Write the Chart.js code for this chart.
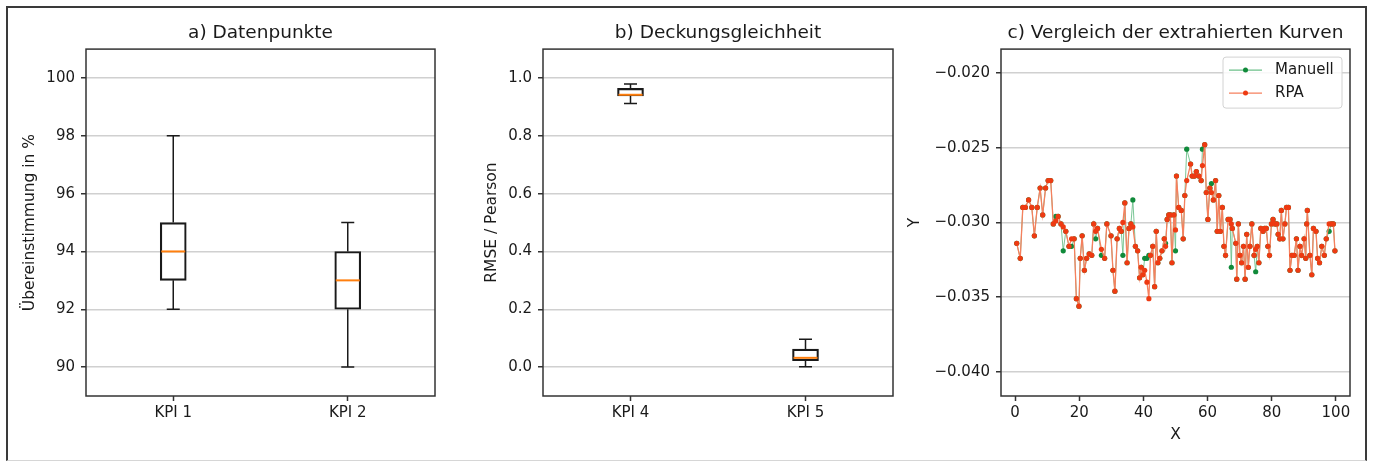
<!DOCTYPE html>
<html>
<head>
<meta charset="utf-8">
<title>KPI Auswertung</title>
<script src="https://cdn.jsdelivr.net/npm/chart.js@4.4.1/dist/chart.umd.min.js"></script>
<style>
  html, body { margin: 0; padding: 0; background: #ffffff; }
  body { width: 1373px; height: 461px; position: relative; overflow: hidden; font-family: "DejaVu Sans", sans-serif; }
  .frame { position: absolute; left: 6px; top: 6px; width: 1361px; height: 455px; box-sizing: border-box;
           border-left: 2px solid #3a3a3a; border-top: 2px solid #3a3a3a; border-right: 2px solid #3a3a3a; border-bottom: 1px solid #d6d6d6; }
  .panel { position: absolute; top: 0; height: 461px; }
</style>
</head>
<body>
<div class="frame"></div>
<div class="panel" style="left:0px;width:460px"><canvas id="chartA"></canvas></div>
<div class="panel" style="left:460px;width:450px"><canvas id="chartB"></canvas></div>
<div class="panel" style="left:906px;width:467px"><canvas id="chartC"></canvas></div>

<script>
// ---- a) Datenpunkte: box statistics per KPI ----
const kpiLabelsA   = ['KPI 1', 'KPI 2'];
const whiskerLowA  = [92, 90];
const quart1A      = [93, 92];
const medianA      = [94, 93];
const quart3A      = [95, 94];
const whiskerHighA = [98, 95];
const yTicksA      = [90, 92, 94, 96, 98, 100];

// ---- b) Deckungsgleichheit: box statistics per KPI ----
const kpiLabelsB   = ['KPI 4', 'KPI 5'];
const whiskerLowB  = [0.912, 0.001];
const quart1B      = [0.938, 0.022];
const medianB      = [0.942, 0.032];
const quart3B      = [0.964, 0.062];
const whiskerHighB = [0.979, 0.096];
const yTicksB      = [0.0, 0.2, 0.4, 0.6, 0.8, 1.0];

// ---- c) Vergleich der extrahierten Kurven ----
const curveX = [
  0.5, 1.6, 2.4, 3.2, 4.2, 5.2, 6.0, 6.9, 7.8, 8.6, 9.5, 10.3, 11.1, 11.9, 12.7, 13.4, 14.3, 15.0, 15.8, 16.8,
  17.6, 18.4, 19.1, 19.9, 20.3, 20.9, 21.6, 22.3, 23.1, 23.9, 24.5, 25.1, 25.7, 26.9, 27.9, 28.6, 29.9, 30.5, 31.1, 31.8,
  32.5, 33.1, 33.6, 34.2, 34.9, 35.5, 36.1, 36.7, 37.5, 38.2, 38.8, 39.3, 39.8, 40.4, 41.1, 41.7, 42.2, 42.9, 43.5, 44.0,
  44.5, 45.1, 45.8, 46.5, 46.9, 47.4, 47.9, 48.4, 48.9, 49.5, 50.0, 50.3, 51.0, 51.8, 52.4, 52.9, 53.5, 54.7, 55.2, 55.9,
  56.5, 57.3, 58.0, 58.4, 59.1, 59.6, 60.1, 60.7, 61.2, 61.8, 62.5, 63.0, 63.5, 64.0, 64.6, 65.1, 65.6, 66.4, 67.0, 67.4,
  67.7, 68.8, 69.1, 69.6, 70.1, 70.6, 71.2, 71.7, 72.2, 72.7, 73.2, 73.8, 74.5, 75.0, 75.5, 76.0, 76.6, 77.3, 77.8, 78.3,
  78.8, 79.3, 79.9, 80.4, 81.0, 81.6, 82.0, 82.5, 83.0, 83.5, 84.1, 84.6, 85.2, 85.7, 86.3, 87.0, 87.7, 88.2, 88.8, 89.3,
  90.1, 90.6, 90.9, 91.1, 91.9, 92.5, 93.0, 93.8, 94.3, 94.9, 95.6, 96.4, 97.0, 97.9, 98.6, 99.2, 99.7
];
const rpaY = [
  -0.0314, -0.0324, -0.0290, -0.0290, -0.0285, -0.0290, -0.0309, -0.0290, -0.0277, -0.0295, -0.0277, -0.0272, -0.0272, -0.0301, -0.0299, -0.0296, -0.0301, -0.0303, -0.0306, -0.0316,
  -0.0311, -0.0311, -0.0351, -0.0356, -0.0324, -0.0309, -0.0332, -0.0324, -0.0321, -0.0322, -0.0301, -0.0306, -0.0304, -0.0318, -0.0324, -0.0301, -0.0309, -0.0332, -0.0346, -0.0311,
  -0.0304, -0.0306, -0.0300, -0.0287, -0.0327, -0.0304, -0.0301, -0.0303, -0.0316, -0.0319, -0.0337, -0.0330, -0.0335, -0.0332, -0.0340, -0.0351, -0.0322, -0.0316, -0.0343, -0.0306,
  -0.0327, -0.0324, -0.0319, -0.0311, -0.0316, -0.0298, -0.0295, -0.0295, -0.0327, -0.0295, -0.0305, -0.0269, -0.0290, -0.0292, -0.0311, -0.0282, -0.0272, -0.0261, -0.0269, -0.0269,
  -0.0266, -0.0269, -0.0272, -0.0262, -0.0248, -0.0280, -0.0298, -0.0277, -0.0280, -0.0285, -0.0272, -0.0306, -0.0282, -0.0306, -0.0290, -0.0316, -0.0322, -0.0298, -0.0298, -0.0301,
  -0.0304, -0.0314, -0.0338, -0.0301, -0.0322, -0.0327, -0.0316, -0.0338, -0.0308, -0.0330, -0.0316, -0.0301, -0.0322, -0.0318, -0.0316, -0.0327, -0.0304, -0.0306, -0.0304, -0.0304,
  -0.0316, -0.0322, -0.0301, -0.0298, -0.0301, -0.0301, -0.0308, -0.0311, -0.0292, -0.0311, -0.0301, -0.0290, -0.0290, -0.0332, -0.0322, -0.0322, -0.0311, -0.0332, -0.0316, -0.0322,
  -0.0311, -0.0324, -0.0301, -0.0292, -0.0322, -0.0335, -0.0304, -0.0306, -0.0324, -0.0327, -0.0316, -0.0322, -0.0311, -0.0301, -0.0301, -0.0301, -0.0319
];
const manuellY = [
  -0.0314, -0.0324, -0.0290, -0.0290, -0.0285, -0.0290, -0.0309, -0.0290, -0.0277, -0.0295, -0.0277, -0.0272, -0.0272, -0.0301, -0.0296, -0.0296, -0.0301, -0.0319, -0.0306, -0.0316,
  -0.0316, -0.0311, -0.0351, -0.0356, -0.0324, -0.0309, -0.0332, -0.0324, -0.0321, -0.0322, -0.0301, -0.0311, -0.0304, -0.0322, -0.0324, -0.0301, -0.0309, -0.0332, -0.0346, -0.0311,
  -0.0304, -0.0306, -0.0322, -0.0287, -0.0327, -0.0304, -0.0301, -0.0285, -0.0316, -0.0319, -0.0337, -0.0330, -0.0335, -0.0324, -0.0324, -0.0322, -0.0322, -0.0316, -0.0343, -0.0306,
  -0.0327, -0.0324, -0.0319, -0.0311, -0.0314, -0.0298, -0.0295, -0.0295, -0.0327, -0.0295, -0.0319, -0.0269, -0.0290, -0.0292, -0.0311, -0.0282, -0.0251, -0.0261, -0.0269, -0.0269,
  -0.0266, -0.0269, -0.0272, -0.0251, -0.0248, -0.0280, -0.0298, -0.0277, -0.0274, -0.0285, -0.0272, -0.0306, -0.0282, -0.0306, -0.0290, -0.0316, -0.0322, -0.0298, -0.0298, -0.0330,
  -0.0304, -0.0314, -0.0338, -0.0301, -0.0322, -0.0327, -0.0316, -0.0338, -0.0308, -0.0330, -0.0316, -0.0301, -0.0322, -0.0333, -0.0316, -0.0327, -0.0304, -0.0306, -0.0304, -0.0304,
  -0.0316, -0.0322, -0.0301, -0.0298, -0.0301, -0.0301, -0.0308, -0.0311, -0.0292, -0.0311, -0.0301, -0.0290, -0.0290, -0.0332, -0.0322, -0.0322, -0.0311, -0.0332, -0.0316, -0.0322,
  -0.0311, -0.0324, -0.0301, -0.0292, -0.0322, -0.0335, -0.0304, -0.0306, -0.0324, -0.0327, -0.0316, -0.0322, -0.0311, -0.0306, -0.0301, -0.0301, -0.0319
];
const xTicksC = [0, 20, 40, 60, 80, 100];
const yTicksC = [-0.040, -0.035, -0.030, -0.025, -0.020];

// ---- shared styling ----
const FONT = 'DejaVu Sans';
const TEXT = '#1a1a1a';
const SPINE = '#333333';
const GRID = '#d0d0d0';

// Closed rectangle around the plot area (all four spines)
const frameSpines = {
  id: 'frameSpines',
  afterDraw(chart) {
    const { ctx, chartArea: a } = chart;
    ctx.save();
    ctx.strokeStyle = SPINE;
    ctx.lineWidth = 1.5;
    ctx.strokeRect(a.left, a.top, a.right - a.left, a.bottom - a.top);
    ctx.restore();
  }
};

// Whiskers, caps and median line on top of the floating-bar boxes
const boxWhiskers = {
  id: 'boxWhiskers',
  afterDatasetsDraw(chart, args, opts) {
    const { ctx } = chart;
    const xs = chart.scales.x, ys = chart.scales.y;
    const half = opts.boxWidth / 2, capHalf = opts.boxWidth / 4;
    ctx.save();
    ctx.lineCap = 'butt';
    opts.low.forEach((lo, i) => {
      const cx = xs.getPixelForValue(i);
      const yLo = ys.getPixelForValue(lo);
      const yQ1 = ys.getPixelForValue(opts.q1[i]);
      const yQ3 = ys.getPixelForValue(opts.q3[i]);
      const yHi = ys.getPixelForValue(opts.high[i]);
      const yMed = ys.getPixelForValue(opts.med[i]);
      ctx.strokeStyle = TEXT;
      ctx.lineWidth = 1.5;
      ctx.beginPath();
      ctx.moveTo(cx, yLo); ctx.lineTo(cx, yQ1);
      ctx.moveTo(cx, yQ3); ctx.lineTo(cx, yHi);
      ctx.moveTo(cx - capHalf, yLo); ctx.lineTo(cx + capHalf, yLo);
      ctx.moveTo(cx - capHalf, yHi); ctx.lineTo(cx + capHalf, yHi);
      ctx.stroke();
      ctx.strokeStyle = '#ff7f0e';
      ctx.lineWidth = 2;
      ctx.beginPath();
      ctx.moveTo(cx - half + 1, yMed); ctx.lineTo(cx + half - 1, yMed);
      ctx.stroke();
    });
    ctx.restore();
  }
};

// Boxed legend with line + marker samples in the upper right corner
const cornerLegend = {
  id: 'cornerLegend',
  afterDraw(chart) {
    const { ctx, chartArea: a } = chart;
    const w = 119, h = 51;
    const left = a.right - 8 - w, top = a.top + 8;
    ctx.save();
    ctx.beginPath();
    ctx.roundRect(left, top, w, h, 3);
    ctx.fillStyle = 'rgba(255,255,255,0.85)';
    ctx.fill();
    ctx.strokeStyle = '#d2d2d2';
    ctx.lineWidth = 1;
    ctx.stroke();
    ctx.font = '15px "' + FONT + '"';
    ctx.textBaseline = 'middle';
    ctx.textAlign = 'left';
    chart.data.datasets.forEach((ds, i) => {
      const y = top + 13 + i * 23;
      ctx.strokeStyle = ds.borderColor;
      ctx.lineWidth = 1.2;
      ctx.beginPath();
      ctx.moveTo(left + 6, y); ctx.lineTo(left + 39, y);
      ctx.stroke();
      ctx.fillStyle = ds.pointBackgroundColor;
      ctx.beginPath();
      ctx.arc(left + 22.5, y, 2.5, 0, Math.PI * 2);
      ctx.fill();
      ctx.fillStyle = TEXT;
      ctx.fillText(ds.label, left + 52, y);
    });
    ctx.restore();
  }
};

function titleOpts(text) {
  return {
    display: true, text, color: TEXT, fullSize: false,
    font: { family: FONT, size: 18.5, weight: 'normal' },
    padding: { top: 9.9, bottom: 5.0 }
  };
}

function fixedTicks(values) {
  return scale => { scale.ticks = values.map(v => ({ value: v })); };
}

function boxChart(canvasId, title, labels, low, q1, med, q3, high, yTicks, yMin, yMax, yTitle, yWidth, titlePad, padRight, fmt) {
  return new Chart(document.getElementById(canvasId), {
    type: 'bar',
    data: {
      labels,
      datasets: [{
        data: q1.map((v, i) => [v, q3[i]]),
        backgroundColor: 'rgba(255,255,255,0)',
        borderColor: TEXT,
        borderWidth: 1.5,
        borderSkipped: false,
        barThickness: 26
      }]
    },
    options: {
      responsive: true,
      maintainAspectRatio: false,
      animation: false,
      events: [],
      layout: { padding: { left: 10, right: padRight, top: 12, bottom: 10 } },
      plugins: {
        legend: { display: false },
        tooltip: { enabled: false },
        title: titleOpts(title),
        boxWhiskers: { low, q1, med, q3, high, boxWidth: 26 }
      },
      scales: {
        x: {
          type: 'category',
          offset: true,
          afterFit: s => { s.height = 55; },
          border: { display: false },
          grid: { offset: false, drawOnChartArea: false, drawTicks: true, tickLength: 5, tickColor: SPINE, tickWidth: 1.5 },
          ticks: { color: TEXT, font: { family: FONT, size: 15 }, padding: 3 }
        },
        y: {
          type: 'linear',
          min: yMin, max: yMax,
          afterBuildTicks: fixedTicks(yTicks),
          afterFit: s => { s.width = yWidth; },
          border: { display: false },
          grid: { color: GRID, lineWidth: 1.5, drawTicks: true, tickLength: 5, tickColor: SPINE, tickWidth: 1.5 },
          ticks: { color: TEXT, font: { family: FONT, size: 15 }, padding: 6, callback: fmt },
          title: { display: true, text: yTitle, color: TEXT, font: { family: FONT, size: 15.5 }, padding: { top: titlePad, bottom: 0 } }
        }
      }
    },
    plugins: [boxWhiskers, frameSpines]
  });
}

boxChart('chartA', 'a) Datenpunkte', kpiLabelsA, whiskerLowA, quart1A, medianA, quart3A, whiskerHighA,
  yTicksA, 89, 101, 'Übereinstimmung in %', 76, 11, 25, v => String(v));

boxChart('chartB', 'b) Deckungsgleichheit', kpiLabelsB, whiskerLowB, quart1B, medianB, quart3B, whiskerHighB,
  yTicksB, -0.1, 1.1, 'RMSE / Pearson', 73, 13, 17, v => Number(v).toFixed(1));

new Chart(document.getElementById('chartC'), {
  type: 'line',
  data: {
    datasets: [
      {
        label: 'Manuell',
        data: curveX.map((x, i) => ({ x, y: manuellY[i] })),
        borderColor: '#6cc08a',
        borderWidth: 0.9,
        pointBackgroundColor: '#108a3a',
        pointBorderWidth: 0,
        pointRadius: 2.6,
        tension: 0,
        order: 2
      },
      {
        label: 'RPA',
        data: curveX.map((x, i) => ({ x, y: rpaY[i] })),
        borderColor: '#f6805e',
        borderWidth: 1.3,
        pointBackgroundColor: '#ee3a12',
        pointBorderWidth: 0,
        pointRadius: 2.6,
        tension: 0,
        order: 1
      }
    ]
  },
  options: {
    responsive: true,
    maintainAspectRatio: false,
    animation: false,
    events: [],
    layout: { padding: { left: 0, right: 23, top: 12, bottom: 10 } },
    plugins: {
      legend: { display: false },
      tooltip: { enabled: false },
      title: titleOpts('c) Vergleich der extrahierten Kurven')
    },
    scales: {
      x: {
        type: 'linear',
        min: -4.4, max: 104.4,
        afterBuildTicks: fixedTicks(xTicksC),
        afterFit: s => { s.height = 55; },
        border: { display: false },
        grid: { drawOnChartArea: false, drawTicks: true, tickLength: 5, tickColor: SPINE, tickWidth: 1.5 },
        ticks: { color: TEXT, font: { family: FONT, size: 15 }, padding: 3, callback: v => String(v) },
        title: { display: true, text: 'X', color: TEXT, font: { family: FONT, size: 15.5 }, padding: { top: 0, bottom: 7 } }
      },
      y: {
        type: 'linear',
        min: -0.04161, max: -0.01841,
        afterBuildTicks: fixedTicks(yTicksC),
        afterFit: s => { s.width = 95; },
        border: { display: false },
        grid: { color: GRID, lineWidth: 1.5, drawTicks: true, tickLength: 5, tickColor: SPINE, tickWidth: 1.5 },
        ticks: { color: TEXT, font: { family: FONT, size: 15 }, padding: 6, callback: v => Number(v).toFixed(3).replace('-', '\u2212') },
        title: { display: true, text: 'Y', color: TEXT, font: { family: FONT, size: 15.5 }, padding: { top: 0, bottom: 0 } }
      }
    }
  },
  plugins: [frameSpines, cornerLegend]
});
</script>
</body>
</html>
